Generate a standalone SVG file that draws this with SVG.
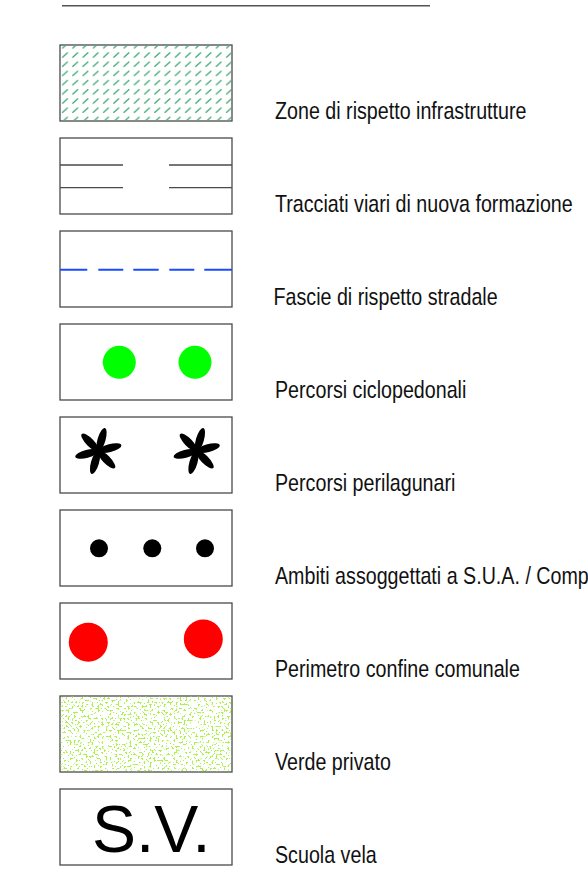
<svg xmlns="http://www.w3.org/2000/svg" width="588" height="869" viewBox="0 0 588 869">
<style>
.box{fill:#fff;stroke:#4a4a4a;stroke-width:1.3}
.ln{stroke:#4a4a4a;stroke-width:1.3;fill:none}
.lbl{font-family:"Liberation Sans",Arial,sans-serif;font-size:24px;fill:#111}
.ast ellipse{fill:#000}
</style>
<defs>
<pattern id="hatch" patternUnits="userSpaceOnUse" x="60" y="50.4" width="10.25" height="9.2">
<line x1="2.2" y1="7.2" x2="7.8" y2="2" stroke="#3aa872" stroke-width="1.3"/>
</pattern>
<filter id="speck" x="0" y="0" width="100%" height="100%">
<feTurbulence type="fractalNoise" baseFrequency="0.5" numOctaves="1" seed="7" result="n"/>
<feColorMatrix in="n" type="matrix" values="0 0 0 0 0.42  0 0 0 0 0.88  0 0 0 0 0.08  18 0 0 0 -10.3" result="c"/>
<feComposite in="c" in2="SourceGraphic" operator="in"/>
</filter>
<g id="ast" class="ast">
<ellipse cx="0" cy="-11.8" rx="4" ry="12" transform="rotate(16)"/>
<ellipse cx="0" cy="-11.8" rx="4" ry="12" transform="rotate(76)"/>
<ellipse cx="0" cy="-11.8" rx="4" ry="12" transform="rotate(136)"/>
<ellipse cx="0" cy="-11.8" rx="4" ry="12" transform="rotate(196)"/>
<ellipse cx="0" cy="-11.8" rx="4" ry="12" transform="rotate(256)"/>
<ellipse cx="0" cy="-11.8" rx="4" ry="12" transform="rotate(316)"/>
</g>
</defs>
<rect width="588" height="869" fill="#fff"/>
<line x1="62" y1="5.7" x2="430" y2="5.7" stroke="#555" stroke-width="1.4"/>

<g id="zone-rispetto">
<rect class="box" x="60" y="45" width="172" height="76"/>
<rect x="60.7" y="45.7" width="170.6" height="74.6" fill="url(#hatch)"/>
<text class="lbl" transform="translate(275,119) scale(0.82,1)">Zone di rispetto infrastrutture</text>
</g>

<g id="tracciati">
<rect class="box" x="60" y="138" width="172" height="76"/>
<path class="ln" d="M60 165H123M169 165H232M60 187.7H123M169 187.7H232"/>
<text class="lbl" transform="translate(275,212) scale(0.82,1)">Tracciati viari di nuova formazione</text>
</g>

<g id="fascie">
<rect class="box" x="60" y="231" width="172" height="76"/>
<path d="M60 269.7H87.3M98.3 269.7H123.3M133.3 269.7H158.7M169.3 269.7H194.3M204.3 269.7H232" stroke="#1a4cff" stroke-width="2" fill="none"/>
<text class="lbl" transform="translate(273.5,305) scale(0.82,1)">Fascie di rispetto stradale</text>
</g>

<g id="ciclopedonali">
<rect class="box" x="60" y="324" width="172" height="76"/>
<circle cx="119.3" cy="362.3" r="16.5" fill="#00ff00"/>
<circle cx="195" cy="362.3" r="16.5" fill="#00ff00"/>
<text class="lbl" transform="translate(275,398) scale(0.82,1)">Percorsi ciclopedonali</text>
</g>

<g id="perilagunari">
<rect class="box" x="60" y="417" width="172" height="76"/>
<use href="#ast" x="98.3" y="451"/>
<use href="#ast" x="196.7" y="451"/>
<text class="lbl" transform="translate(275,491) scale(0.82,1)">Percorsi perilagunari</text>
</g>

<g id="ambiti-sua">
<rect class="box" x="60" y="510" width="172" height="76"/>
<circle cx="99" cy="548.3" r="9" fill="#000"/>
<circle cx="152.3" cy="548.3" r="9" fill="#000"/>
<circle cx="205" cy="548.3" r="9" fill="#000"/>
<text class="lbl" transform="translate(275,584) scale(0.82,1)">Ambiti assoggettati a S.U.A. / Comp</text>
</g>

<g id="confine-comunale">
<rect class="box" x="60" y="603" width="172" height="76"/>
<circle cx="88.3" cy="642.3" r="19.5" fill="#ff0000"/>
<circle cx="203.3" cy="639" r="19.5" fill="#ff0000"/>
<text class="lbl" transform="translate(275,677) scale(0.82,1)">Perimetro confine comunale</text>
</g>

<g id="verde-privato">
<rect class="box" x="60" y="696" width="172" height="76"/>
<rect x="60.7" y="696.7" width="170.6" height="74.6" fill="#fff" filter="url(#speck)"/>
<text class="lbl" transform="translate(275,770) scale(0.82,1)">Verde privato</text>
</g>

<g id="scuola-vela">
<rect class="box" x="60" y="789" width="172" height="76"/>
<text x="92" y="852" font-family="'Liberation Sans',Arial,sans-serif" font-size="66" fill="#000">S.V.</text>
<text class="lbl" transform="translate(275,863) scale(0.82,1)">Scuola vela</text>
</g>
</svg>
